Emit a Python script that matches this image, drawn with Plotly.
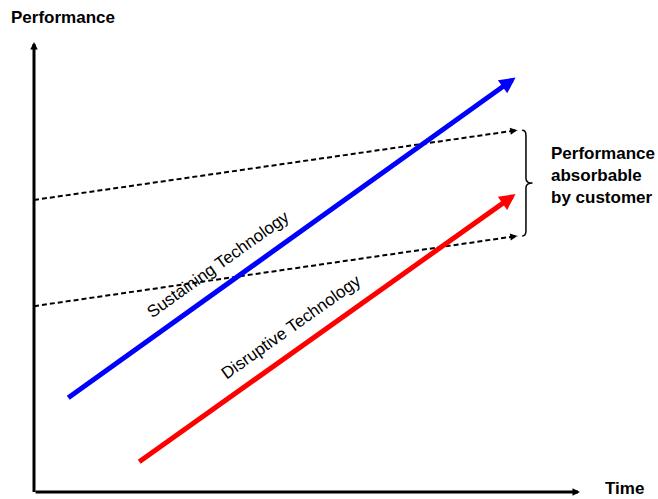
import plotly.graph_objects as go

# Conceptual units: time and performance both run 0..10 along the drawn axes
time_max = 10
perf_max = 10

# Technology trajectories: [start, end] as (time, performance)
sustaining_t = [0.6, 8.82]
sustaining_p = [2.07, 9.21]
disruptive_t = [1.9, 8.82]
disruptive_p = [0.65, 6.62]

# Range of performance the customer can absorb: lower and upper bounds over time
absorb_t = [0.0, 8.85]
absorb_hi = [6.49, 8.04]
absorb_lo = [4.13, 5.69]

FONT = "Liberation Sans, Arial, sans-serif"


def arrow(x0, y0, x1, y1, color, width, size):
    """Straight arrow from (x0, y0) to (x1, y1) in data units, head at the end."""
    return dict(
        x=x1, y=y1, ax=x0, ay=y0,
        xref="x", yref="y", axref="x", ayref="y",
        text="", showarrow=True, arrowhead=2,
        arrowsize=size, arrowwidth=width, arrowcolor=color,
        standoff=0, startstandoff=0,
    )


def head_only(ts, ps, color, width, size, frac=0.015):
    """Arrowhead at the end of a segment, with a very short shaft."""
    t0 = ts[1] - (ts[1] - ts[0]) * frac
    p0 = ps[1] - (ps[1] - ps[0]) * frac
    return arrow(t0, p0, ts[1], ps[1], color, width, size)


fig = go.Figure()

# Dashed bounds of absorbable performance
for bound in (absorb_hi, absorb_lo):
    fig.add_trace(go.Scatter(
        x=absorb_t, y=bound, mode="lines",
        line=dict(color="black", width=2, dash="5px,3px"),
        hoverinfo="skip", showlegend=False, cliponaxis=False,
    ))

annotations = [
    # axes
    arrow(0, -0.035, 0, perf_max, "black", 3, 0.5),
    arrow(0, 0, time_max, 0, "black", 3, 0.5),
    # technology trajectories
    arrow(sustaining_t[0], sustaining_p[0], sustaining_t[1], sustaining_p[1], "#0000ff", 5, 0.64),
    arrow(disruptive_t[0], disruptive_p[0], disruptive_t[1], disruptive_p[1], "#ff0000", 5, 0.64),
    # heads of the dashed bounds
    head_only(absorb_t, absorb_hi, "black", 2, 0.7),
    head_only(absorb_t, absorb_lo, "black", 2, 0.7),
]

bold = dict(family=FONT, size=17, color="black")
plain = dict(family=FONT, size=17, color="black")

annotations += [
    # axis titles sit outside the plotting area, so they use paper coordinates
    dict(x=-0.0465, y=1.054, xref="paper", yref="paper", text="<b>Performance</b>",
         showarrow=False, xanchor="left", yanchor="middle", font=bold),
    dict(x=1.044, y=-0.0156, xref="paper", yref="paper", text="<b>Time</b>",
         showarrow=False, xanchor="left", yanchor="bottom", borderpad=0, font=bold),
    dict(x=9.43, y=7.04, xref="x", yref="y",
         text="<b>Performance<br>absorbable<br>by customer</b>",
         showarrow=False, xanchor="left", yanchor="middle", align="left", font=bold),
    dict(x=3.37, y=5.06, xref="x", yref="y", text="Sustaining Technology",
         showarrow=False, textangle=-35.6, xanchor="center", yanchor="middle", font=plain),
    dict(x=4.70, y=3.66, xref="x", yref="y", text="Disruptive Technology",
         showarrow=False, textangle=-35.4, xanchor="center", yanchor="middle", font=plain),
]

# Curly brace grouping the two bounds
yt, yb = absorb_hi[1], absorb_lo[1]
ym = (yt + yb) / 2
x0, xs, xt, r = 8.94, 9.01, 9.13, 0.11
brace = (
    f"M{x0},{yt} Q{xs},{yt} {xs},{yt - r} L{xs},{ym + r} "
    f"Q{xs},{ym} {xt},{ym} Q{xs},{ym} {xs},{ym - r} "
    f"L{xs},{yb + r} Q{xs},{yb} {x0},{yb}"
)

fig.update_layout(
    width=658, height=499, autosize=False,
    margin=dict(l=34, r=78, t=42, b=7, pad=0),
    paper_bgcolor="white", plot_bgcolor="white",
    xaxis=dict(range=[0, time_max], visible=False, fixedrange=True),
    yaxis=dict(range=[0, perf_max], visible=False, fixedrange=True),
    annotations=annotations,
    shapes=[dict(type="path", path=brace, xref="x", yref="y",
                 line=dict(color="black", width=1.5))],
    showlegend=False,
)

fig.write_html("out.html", config={"displayModeBar": False})
